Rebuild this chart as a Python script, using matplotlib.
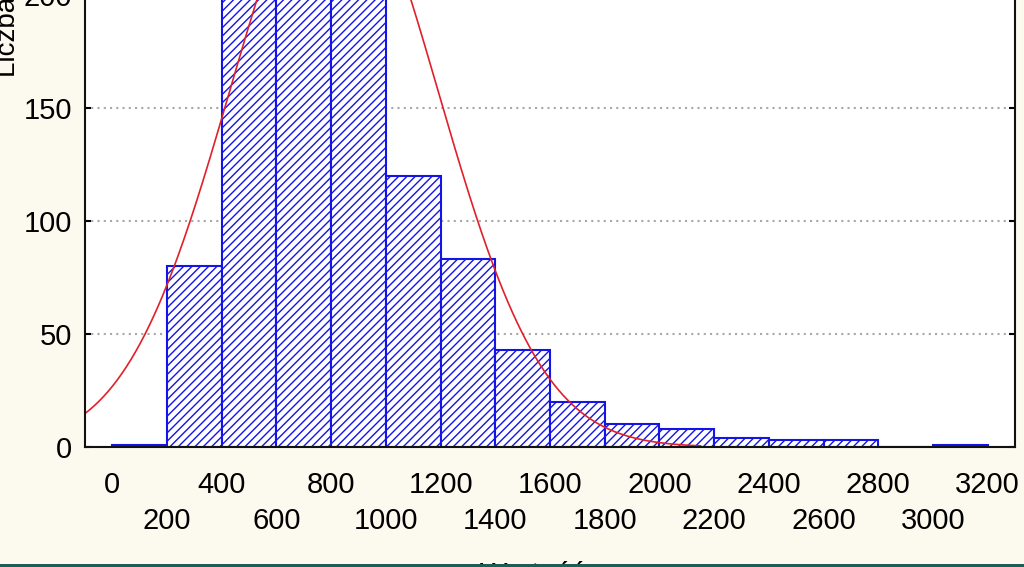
import matplotlib
matplotlib.use("Agg")
import matplotlib.pyplot as plt
import numpy as np
from matplotlib.patches import Rectangle

# histogram classes (left edges, width 200) and counts
bin_left = [0, 200, 400, 600, 800, 1000, 1200, 1400, 1600, 1800,
            2000, 2200, 2400, 2600, 2800, 3000]
counts = [1, 80, 250, 330, 300, 120, 83, 43, 20, 10, 8, 4, 3, 3, 0, 1]
bin_width = 200

# fitted normal curve parameters (estimated from the red line)
fit_mean = 810
fit_sd = 380
n_obs = 1240

x_ticks_top = [0, 400, 800, 1200, 1600, 2000, 2400, 2800, 3200]
x_ticks_low = [200, 600, 1000, 1400, 1800, 2200, 2600, 3000]
y_ticks = [0, 50, 100, 150, 200]

plt.rcParams['font.family'] = ['Liberation Sans', 'DejaVu Sans']
plt.rcParams['hatch.linewidth'] = 1.0
plt.rcParams['hatch.color'] = '#1414E6'

fig = plt.figure(figsize=(10.24, 5.67), dpi=100)
fig.patch.set_facecolor('#FCF9EF')
ax = fig.add_axes([85/1024, 120/567, 930/1024, 220*2.26/567])
ax.set_facecolor('white')

ax.bar(bin_left, counts, width=bin_width, align='edge', color='white',
       edgecolor='#1414E6', linewidth=1.5, hatch='////', zorder=2)

xs = np.linspace(-100, 2150, 400)
ys = n_obs * bin_width / (fit_sd * np.sqrt(2*np.pi)) * np.exp(-(xs - fit_mean)**2 / (2*fit_sd**2))
ax.plot(xs, ys, color='#E0202A', linewidth=1.2, zorder=3)

ax.set_xlim(-100, 3300)
ax.set_ylim(0, 220)

ax.set_yticks(y_ticks)
ax.set_yticklabels([str(v) for v in y_ticks])
ax.set_xticks(x_ticks_top)
ax.set_xticklabels([str(v) for v in x_ticks_top])
ax.set_xticks(x_ticks_low, minor=True)
ax.set_xticklabels([str(v) for v in x_ticks_low], minor=True)

ax.tick_params(axis='y', direction='in', length=4, width=1.5, pad=9.5,
               labelsize=21, right=True)
ax.tick_params(axis='x', which='major', length=0, pad=17.5, labelsize=21)
ax.tick_params(axis='x', which='minor', length=0, pad=43.5, labelsize=21)

ax.yaxis.grid(True, color='#A8A8A8', linestyle=(0, (1, 2)), linewidth=1.5, zorder=0)
ax.set_axisbelow(True)
for s in ax.spines.values():
    s.set_linewidth(1.5)
    s.set_color('#111111')
    s.set_zorder(4)

fig.text(8/1024, (567-77)/567, 'Liczba obs.', rotation=90, ha='center', va='bottom',
         fontsize=20)
fig.text(533/1024, (567-561)/567, 'Wartość', ha='center', va='top', fontsize=21)

fig.patches.append(Rectangle((0, 0), 1, 3/567, transform=fig.transFigure,
                             facecolor='#1E5D55', edgecolor='none', zorder=5))

fig.savefig('out.png', dpi=100, facecolor=fig.get_facecolor())
